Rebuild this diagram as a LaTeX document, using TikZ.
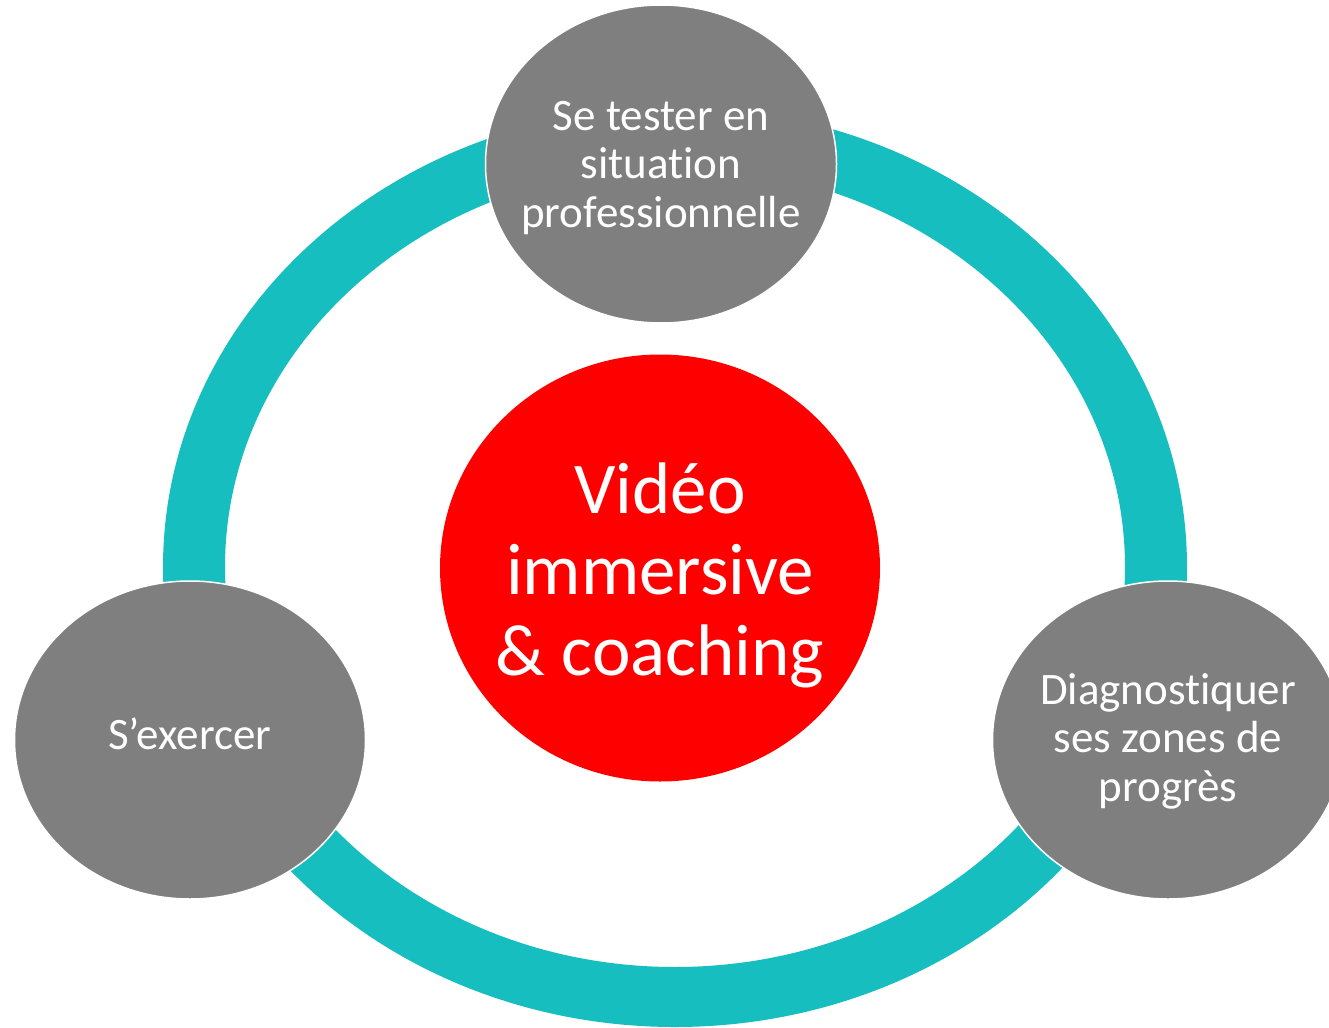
\documentclass[tikz,border=0pt]{standalone}
\usepackage{fontspec}
\setmainfont{Carlito}[Ligatures={NoCommon}]
\usetikzlibrary{shapes.geometric}
\definecolor{ringteal}{RGB}{23,190,192}
\definecolor{bubblegray}{RGB}{127,127,127}
\definecolor{hubred}{RGB}{255,0,0}

\begin{document}
\begin{tikzpicture}[x=1pt, y=-1pt,
    bubble/.style={ellipse, fill=bubblegray, draw=white, line width=1.5pt,
        minimum width=351pt, minimum height=318pt, inner sep=0pt},
    hub/.style={ellipse, fill=hubred, minimum width=440pt, minimum height=427pt, inner sep=0pt},
    bubbletext/.style={text=white, align=center, font=\fontsize{45}{48.5}\selectfont},
    hubtext/.style={text=white, align=center, font=\fontsize{73}{81}\selectfont}]
            \useasboundingbox (0,0) rectangle (1329,1027);
            \clip (0,0) rectangle (1329,1027);
            % the ring behind everything
            \fill[ringteal, even odd rule] (675,567) ellipse [x radius=512, y radius=460]
                                           (675,567) ellipse [x radius=450, y radius=400];
            \draw (661,164) node[bubble](tester){};
            \draw (190,740) node[bubble](exercer){};
            \draw (1168,740) node[bubble](diagnostic){};
            \draw (660,568) node[hub](video){};
            \node[bubbletext, yshift=-4pt] (testertxt) at (tester) {Se tester en\\situation\\professionnelle};
            \node[bubbletext, yshift=6pt] (exercertxt) at (exercer) {S’exercer};
            \node[bubbletext, yshift=-1pt] (diagnostictxt) at (diagnostic) {Diagnostiquer\\ses zones de\\progrès};
            \node[hubtext, yshift=-7pt] (videotxt) at (video) {Vidéo\\immersive\\\& coaching};
        \end{tikzpicture}
\end{document}
